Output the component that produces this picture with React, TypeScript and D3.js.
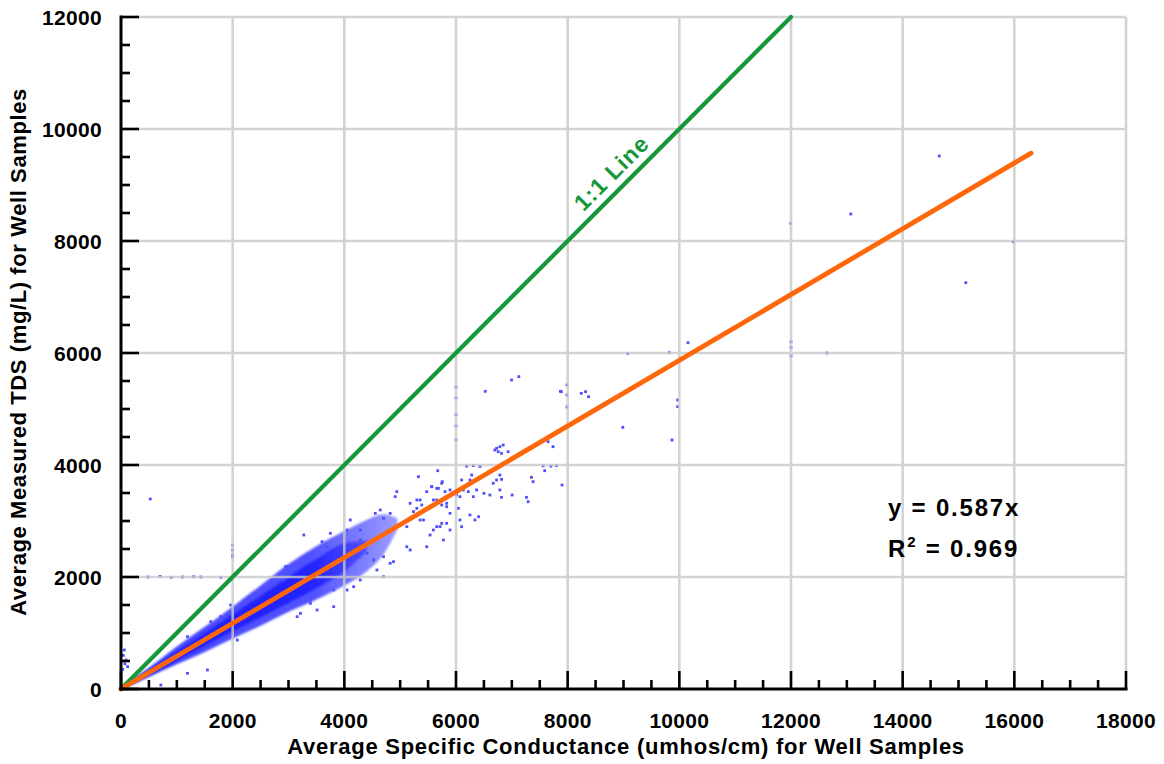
import React from "react";
import * as d3 from "d3";

// ---------- data ----------
const xTickValues = [0, 2000, 4000, 6000, 8000, 10000, 12000, 14000, 16000, 18000];
const yTickValues = [0, 2000, 4000, 6000, 8000, 10000, 12000];
const xTitle = "Average Specific Conductance (umhos/cm) for Well Samples";
const yTitle = "Average Measured TDS (mg/L) for Well Samples";

// dense cloud of samples, as an envelope (SC -> TDS low/high)
const bandSC = [0, 250, 500, 1000, 1500, 2000, 2500, 3000, 3500, 4000, 4400, 4700, 4950];
const bandOuterLow = [0, 100, 215, 440, 660, 900, 1130, 1380, 1600, 1850, 2100, 2400, 2850];
const bandOuterHigh = [0, 200, 380, 760, 1110, 1470, 1850, 2230, 2550, 2820, 3020, 3120, 3050];
const coreSC = [0, 250, 500, 1000, 1500, 2000, 2500, 3000, 3500, 4000, 4400];
const bandCoreLow = [0, 125, 250, 510, 770, 1030, 1280, 1540, 1800, 2100, 2450];
const bandCoreHigh = [0, 175, 340, 670, 1000, 1330, 1660, 2000, 2320, 2600, 2650];

// individual samples outside the dense cloud [SC, TDS]
const samplePoints: [number, number][] = [
  [524, 3393],
  [6995, 5518], [7125, 5577], [6524, 5316], [7869, 5316], [8244, 5280], [8321, 5309], [8375, 5220],
  [8988, 4673], [9869, 4446], [10155, 6184],
  [6727, 4298], [6786, 4327], [6845, 4357], [6756, 4238], [6816, 4208], [6934, 4238], [6696, 4268],
  [7649, 4417], [7738, 4327],
  [5673, 3898], [5327, 3791], [7351, 3780], [7381, 3702], [7589, 3898], [7899, 3643], [7262, 3423], [7292, 3345], [7006, 3464],
  [6786, 3554], [6816, 3423], [6727, 3732], [6786, 3821], [6816, 3744], [6667, 3673], [6607, 3464], [6500, 3494],
  [6280, 3821], [6250, 3732], [6369, 3554], [6220, 3524], [6310, 3434], [6405, 3077], [6250, 3107], [6339, 3018],
  [6101, 3732], [6131, 3554], [6071, 3434], [6042, 3226], [6071, 3018], [6101, 2898],
  [5755, 3702], [5804, 3524], [5655, 3583], [5566, 3613], [5476, 3524], [5595, 3375], [5744, 3286], [5833, 3256],
  [5893, 3137], [5833, 2958], [5714, 2899], [5595, 2839], [5536, 2750], [5387, 3286], [5298, 3375], [5238, 3167],
  [5357, 3018], [5179, 3048], [5119, 2899],
  [4940, 3524], [4911, 3434], [5565, 3613], [5685, 3583], [5744, 3673], [5893, 3554], [6012, 3464], [5833, 3316],
  [5655, 3375], [5357, 3375], [5179, 3316], [5298, 3226],
  [5417, 3018], [5655, 2899], [5744, 2958], [5893, 2839], [5774, 2661], [5119, 2541], [5179, 2482], [5476, 2541],
  [4702, 2363], [4821, 2244], [4881, 2274], [4286, 2661], [4405, 2423], [4524, 2304], [4554, 3137], [4643, 3196],
  [4702, 3048], [4821, 3137],
  [3274, 2750], [3750, 2780], [4048, 2839], [2976, 2184], [4048, 1768], [4167, 1827], [4286, 1946], [4702, 2006],
  [4583, 2125], [3810, 1470], [3512, 1411], [3214, 1351], [3393, 1530],
  [14655, 9518], [15131, 7256], [15982, 7988], [13071, 8482], [11994, 8315], [12000, 6100], [12000, 6200], [12000, 5950],
  [12643, 6000], [9077, 5994], [9821, 6006], [9970, 5161], [9970, 5041], [7988, 5429], [7988, 5250], [7988, 5036], [7887, 5309],
  [6000, 5390], [6000, 5200], [6000, 4900], [6000, 4700], [6000, 4450], [6190, 3980], [6310, 3990], [6430, 3975],
  [7560, 3985], [7700, 3980], [7800, 3990],
  [59, 696], [89, 518], [119, 399], [40, 600], [70, 450], [30, 350],
  [480, 2000], [700, 2010], [900, 1995], [1100, 2000], [1300, 2005], [1430, 2000], [1790, 1995],
  [2000, 2570], [2000, 2480], [2000, 2400], [2000, 2360],
  [714, 71], [1190, 280], [1548, 339], [1190, 934], [1607, 1202], [1786, 1291], [1964, 1500], [2083, 875],
  [2679, 1857], [2917, 1946], [2946, 2184], [3393, 1589], [3810, 1768], [3155, 1291], [3601, 2631], [4107, 3018],
  [3690, 2542], [4286, 2839],
];

// regression line y = 0.587x and the 1:1 line
const fitLine: [number, number][] = [[0, 0], [16300, 9568]];
const oneToOneLine: [number, number][] = [[0, 0], [12000, 12000]];
const equationText = "y = 0.587x";
const r2Text = ["R", "2", " = 0.969"];
const oneToOneLabel = "1:1 Line";

// ---------- chart ----------
const W = 1164;
const H = 764;
const FONT = "'Liberation Sans', Arial, Helvetica, sans-serif";
const GREEN = "#16973a";
const ORANGE = "#ff680a";

export default function App() {
  const x = d3.scaleLinear().domain([0, 18000]).range([121, 1126]);
  const y = d3.scaleLinear().domain([0, 12000]).range([689, 17]);

  const outerArea = d3
    .area<number>()
    .x((_, i) => x(bandSC[i]))
    .y0((_, i) => y(bandOuterLow[i]))
    .y1((_, i) => y(bandOuterHigh[i]))
    .curve(d3.curveMonotoneX)(bandSC) as string;
  const coreArea = d3
    .area<number>()
    .x((_, i) => x(coreSC[i]))
    .y0((_, i) => y(bandCoreLow[i]))
    .y1((_, i) => y(bandCoreHigh[i]))
    .curve(d3.curveMonotoneX)(coreSC) as string;

  const line = d3
    .line<[number, number]>()
    .x((d) => x(d[0]))
    .y((d) => y(d[1]));

  const minorX = d3.range(0, 18001, 500).filter((v) => v % 2000 !== 0);
  const minorY = d3.range(0, 12001, 500).filter((v) => v % 2000 !== 0);

  const angle =
    (Math.atan2(y(oneToOneLine[1][1]) - y(0), x(oneToOneLine[1][0]) - x(0)) * 180) / Math.PI;
  const labelAt = 9000;

  return (
    <svg
      width={W}
      height={H}
      style={{ position: "absolute", left: 0, top: 0, display: "block", background: "#fff" }}
    >
      <defs>
        <filter id="soft" x="-5%" y="-5%" width="110%" height="110%">
          <feGaussianBlur stdDeviation="1.0" />
        </filter>
        <linearGradient id="outerGrad" gradientUnits="userSpaceOnUse" x1={x(0)} x2={x(4950)} y1={0} y2={0}>
          <stop offset="0" stopColor="#4444ff" stopOpacity={1} />
          <stop offset="0.7" stopColor="#4a4aff" stopOpacity={0.95} />
          <stop offset="1" stopColor="#5a5aff" stopOpacity={0.6} />
        </linearGradient>
        <linearGradient id="coreGrad" gradientUnits="userSpaceOnUse" x1={x(0)} x2={x(4400)} y1={0} y2={0}>
          <stop offset="0" stopColor="#1e1eff" stopOpacity={1} />
          <stop offset="0.75" stopColor="#2323ff" stopOpacity={1} />
          <stop offset="1" stopColor="#3030ff" stopOpacity={0.6} />
        </linearGradient>
      </defs>
      <rect x={0} y={0} width={W} height={H} fill="#fff" />

      {/* sample cloud */}
      <path d={outerArea} fill="url(#outerGrad)" filter="url(#soft)" />
      <path d={coreArea} fill="url(#coreGrad)" filter="url(#soft)" />
      {samplePoints.map((p, i) => (
        <rect
          key={i}
          x={x(p[0]) - 1.4}
          y={y(p[1]) - 1.4}
          width={2.8}
          height={2.8}
          fill="#4f4fff"
        />
      ))}

      {/* grid */}
      <g stroke="#c9c9c9" strokeWidth={2.6} opacity={0.8}>
        {xTickValues.slice(1).map((v) => (
          <line key={"gx" + v} x1={x(v)} x2={x(v)} y1={y(0)} y2={y(12000)} />
        ))}
        {yTickValues.slice(1).map((v) => (
          <line key={"gy" + v} x1={x(0)} x2={x(18000)} y1={y(v)} y2={y(v)} />
        ))}
      </g>

      {/* lines */}
      <path d={line(oneToOneLine) as string} stroke={GREEN} strokeWidth={4.2} fill="none" strokeLinecap="round" />
      <path d={line(fitLine) as string} stroke={ORANGE} strokeWidth={4.8} fill="none" strokeLinecap="round" />

      {/* axes */}
      <g stroke="#000">
        <line x1={x(0) - 1.5} x2={x(18000) + 1.5} y1={y(0)} y2={y(0)} strokeWidth={3} />
        <line x1={x(0)} x2={x(0)} y1={y(0) + 1.5} y2={y(12000) - 1.5} strokeWidth={3} />
        {xTickValues.map((v) => (
          <line key={"tx" + v} x1={x(v)} x2={x(v)} y1={y(0)} y2={y(0) - 18} strokeWidth={2.6} />
        ))}
        {minorX.map((v) => (
          <line key={"mx" + v} x1={x(v)} x2={x(v)} y1={y(0)} y2={y(0) - 9} strokeWidth={2.6} />
        ))}
        {yTickValues.map((v) => (
          <line key={"ty" + v} x1={x(0)} x2={x(0) + 18} y1={y(v)} y2={y(v)} strokeWidth={2.6} />
        ))}
        {minorY.map((v) => (
          <line key={"my" + v} x1={x(0)} x2={x(0) + 9} y1={y(v)} y2={y(v)} strokeWidth={2.6} />
        ))}
      </g>

      {/* tick labels */}
      <g fontFamily={FONT} fontWeight="bold" fontSize={21} fill="#000" letterSpacing={0.3}>
        {xTickValues.map((v) => (
          <text key={"lx" + v} x={x(v)} y={728} textAnchor="middle">
            {v}
          </text>
        ))}
        {yTickValues.map((v) => (
          <text key={"ly" + v} x={102} y={y(v) + 8} textAnchor="end">
            {v}
          </text>
        ))}
      </g>

      {/* axis titles */}
      <text
        x={626}
        y={754}
        textAnchor="middle"
        fontFamily={FONT}
        fontWeight="bold"
        fontSize={22}
        letterSpacing={0.75}
        fill="#000"
      >
        {xTitle}
      </text>
      <text
        transform={`translate(26,352) rotate(-90)`}
        textAnchor="middle"
        fontFamily={FONT}
        fontWeight="bold"
        fontSize={22}
        letterSpacing={0.6}
        fill="#000"
      >
        {yTitle}
      </text>

      {/* 1:1 label */}
      <text
        transform={`translate(${x(labelAt)},${y(labelAt)}) rotate(${angle})`}
        y={-9}
        textAnchor="middle"
        fontFamily={FONT}
        fontWeight="bold"
        fontSize={23}
        letterSpacing={1}
        fill={GREEN}
      >
        {oneToOneLabel}
      </text>

      {/* equation */}
      <g fontFamily={FONT} fontWeight="bold" fontSize={24} fill="#000" letterSpacing={1.8}>
        <text x={888} y={516}>{equationText}</text>
        <text x={888} y={557}>
          {r2Text[0]}
          <tspan fontSize={15} dy={-10}>{r2Text[1]}</tspan>
          <tspan dy={10}>{r2Text[2]}</tspan>
        </text>
      </g>
    </svg>
  );
}
